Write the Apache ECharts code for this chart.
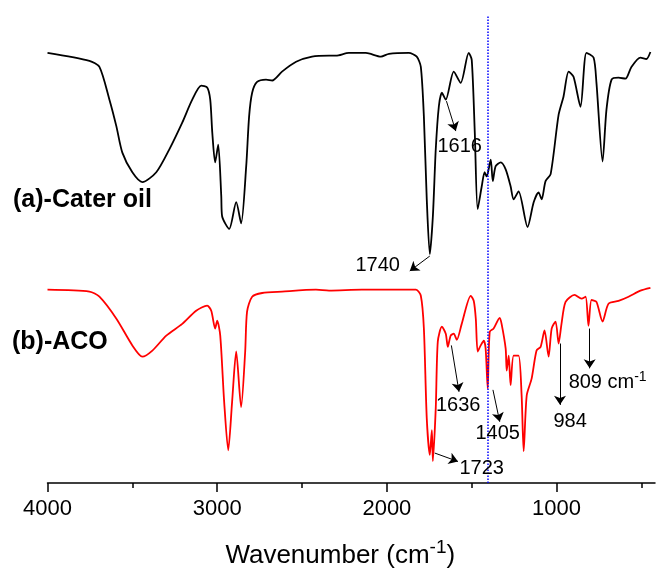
<!DOCTYPE html>
<html>
<head>
<meta charset="utf-8">
<script src="https://cdn.jsdelivr.net/npm/echarts@6/dist/echarts.min.js"></script>
<style>
  html, body { margin: 0; padding: 0; background: #fff; }
  #chart { width: 657px; height: 574px; }
</style>
</head>
<body>
<div id="chart"></div>
<script>
// (a) castor oil spectrum, wavenumber / transmittance (a.u.)
const castorWn = [4000, 3753, 3694, 3635, 3594, 3559, 3500, 3441, 3359, 3282, 3206, 3147, 3094, 3059, 3041, 3029, 3012, 2994, 2976, 2971, 2929, 2888, 2859, 2829, 2812, 2794, 2765, 2712, 2676, 2618, 2535, 2441, 2341, 2300, 2224, 2124, 2035, 1988, 1871, 1824, 1800, 1782, 1765, 1747, 1729, 1712, 1694, 1676, 1653, 1606, 1565, 1518, 1500, 1482, 1465, 1441, 1424, 1412, 1388, 1376, 1359, 1329, 1300, 1271, 1253, 1224, 1171, 1135, 1106, 1088, 1065, 1035, 988, 959, 929, 900, 859, 824, 782, 765, 729, 706, 676, 635, 594, 559, 506, 471, 447]
const castorT = [91.9, 90.2, 88.9, 81.9, 76.2, 70.6, 66.4, 64.3, 66.4, 71.3, 77.0, 81.9, 84.9, 84.5, 81.9, 74.9, 68.5, 72.3, 61.3, 57.0, 54.3, 60.0, 55.5, 67.7, 78.3, 83.4, 85.7, 86.2, 86.0, 87.9, 90.0, 91.1, 91.3, 91.3, 91.9, 91.9, 91.1, 91.7, 91.9, 91.1, 88.9, 78.3, 60.6, 48.9, 57.0, 71.3, 80.4, 83.4, 81.9, 87.9, 85.5, 91.9, 90.4, 74.9, 58.5, 63.4, 66.4, 65.5, 69.1, 64.5, 67.7, 68.5, 67.0, 63.4, 60.6, 62.3, 54.7, 60.0, 62.1, 60.6, 64.5, 66.0, 78.7, 82.6, 87.9, 86.8, 80.4, 91.9, 90.9, 85.5, 68.7, 79.8, 86.2, 86.6, 86.4, 88.9, 90.9, 90.6, 92.1]

// (b) ACO spectrum
const acoWn = [4000, 3753, 3694, 3594, 3500, 3441, 3382, 3300, 3206, 3124, 3059, 3035, 3012, 3000, 2982, 2959, 2935, 2912, 2888, 2859, 2835, 2824, 2794, 2735, 2618, 2418, 2341, 2147, 1829, 1800, 1782, 1765, 1747, 1735, 1729, 1712, 1700, 1676, 1653, 1641, 1624, 1606, 1588, 1559, 1506, 1488, 1476, 1465, 1447, 1429, 1418, 1406, 1394, 1371, 1335, 1324, 1300, 1294, 1282, 1271, 1253, 1224, 1206, 1194, 1176, 1147, 1118, 1094, 1071, 1047, 1029, 1006, 988, 971, 947, 894, 853, 829, 812, 794, 765, 729, 694, 635, 576, 506, 447]
const acoT = [41.3, 40.9, 39.8, 35.1, 29.4, 27.0, 28.3, 31.5, 34.0, 36.8, 37.9, 36.8, 33.0, 34.7, 31.5, 17.4, 7.0, 17.4, 28.1, 16.2, 28.1, 36.6, 39.8, 40.6, 40.9, 41.3, 41.1, 41.3, 41.3, 40.0, 33.0, 13.8, 6.0, 11.3, 4.7, 16.0, 30.2, 33.4, 31.9, 29.1, 31.5, 31.9, 30.6, 34.0, 40.0, 38.9, 35.1, 28.1, 29.4, 30.4, 28.7, 20.2, 32.3, 33.0, 35.3, 34.0, 28.7, 24.0, 27.2, 20.9, 27.2, 27.2, 18.7, 6.8, 18.7, 22.3, 28.3, 29.1, 32.6, 27.0, 33.0, 34.5, 29.8, 34.0, 38.7, 40.2, 39.4, 39.8, 33.6, 39.1, 38.7, 34.5, 38.3, 38.9, 39.8, 41.1, 41.7]

const majorTicks = [4000, 3000, 2000, 1000]
const minorTicks = [3500, 2500, 1500, 500]
const markerWn = 1405

// peak notes: label, arrow start, arrow end, label position (wavenumber, a.u.)
const noteText = ['1740', '1616', '1636', '1405', '1723', '984', '809 cm-1']
const noteFrom = [[1747, 48.5], [1649, 81.6], [1620, 29.4], [1375, 19.9], [1718, 6.4], [980, 29.8], [805, 33.0]]
const noteTo = [[1865, 45.3], [1594, 75.2], [1575, 19.5], [1335, 13.1], [1581, 4.6], [980, 16.7], [805, 24.5]]
const noteAt = [[2054, 46.4], [1571, 71.9], [1580, 16.6], [1347, 10.6], [1441, 3.2], [920, 13.2], [929, 21.4]]

const FONT = '"Liberation Sans", Arial, sans-serif'

const chart = echarts.init(document.getElementById('chart'))

function zip(xs, ys) {
  return xs.map((x, i) => [x, ys[i]])
}

const noteLabels = noteText.map((t, i) => {
  const sup = t.endsWith(' cm-1')
  return {
    value: noteAt[i],
    label: sup ? {
      align: 'left',
      color: '#000',
      formatter: '{n|' + t.replace('-1', '') + '}{s|-1}'
    } : { color: '#000', formatter: t }
  }
})

const xBase = {
  type: 'value',
  inverse: true,
  min: 420,
  max: 4000,
  position: 'bottom',
  splitLine: { show: false }
}

chart.setOption({
  animation: false,
  backgroundColor: '#fff',
  grid: { left: 47.5, right: 2, top: 15, bottom: 89 },
  xAxis: [
    Object.assign({}, xBase, {
      name: '{a|Wavenumber (cm}{s|-1}{a|)}',
      nameLocation: 'middle',
      nameGap: 55,
      nameTextStyle: {
        padding: [0, 22, 0, 0],
        rich: {
          a: { fontFamily: FONT, fontSize: 26, lineHeight: 36, color: '#000' },
          s: { fontFamily: FONT, fontSize: 19, lineHeight: 25, verticalAlign: 'top', color: '#000' }
        }
      },
      axisLine: { lineStyle: { color: '#000', width: 1.5 } },
      axisTick: { customValues: majorTicks, length: 9, lineStyle: { color: '#000', width: 1.5 } },
      axisLabel: {
        customValues: majorTicks,
        margin: 15,
        fontFamily: FONT,
        fontSize: 22,
        color: '#000',
        formatter: v => String(v)
      }
    }),
    Object.assign({}, xBase, {
      axisLine: { show: false },
      axisTick: { customValues: minorTicks, length: 5, lineStyle: { color: '#000', width: 1.5 } },
      axisLabel: { show: false }
    })
  ],
  yAxis: { type: 'value', min: 0, max: 100, show: false },
  graphic: [
    { type: 'text', x: 13, y: 200, style: { text: '(a)-Cater oil', font: 'bold 25px ' + FONT, fill: '#000', verticalAlign: 'middle' } },
    { type: 'text', x: 12, y: 342, style: { text: '(b)-ACO', font: 'bold 25px ' + FONT, fill: '#000', verticalAlign: 'middle' } }
  ],
  series: [
    {
      name: '(a)-Cater oil',
      type: 'line',
      data: zip(castorWn, castorT),
      showSymbol: false,
      smooth: 0.25,
      lineStyle: { color: '#000', width: 1.8 },
      markLine: {
        silent: true,
        symbol: 'none',
        label: { show: false },
        lineStyle: { color: '#0000ff', type: 'dotted', width: 1.5 },
        data: [{ xAxis: markerWn }]
      }
    },
    {
      name: '(b)-ACO',
      type: 'line',
      data: zip(acoWn, acoT),
      showSymbol: false,
      smooth: 0.25,
      lineStyle: { color: '#ff0000', width: 1.8 }
    },
    {
      type: 'lines',
      coordinateSystem: 'cartesian2d',
      symbol: ['none', 'arrow'],
      symbolSize: 9,
      lineStyle: { color: '#000', width: 1, opacity: 1 },
      data: noteFrom.map((p, i) => ({ coords: [p, noteTo[i]] })),
      z: 5
    },
    {
      type: 'scatter',
      symbolSize: 0,
      itemStyle: { opacity: 1 },
      data: noteLabels,
      label: {
        show: true,
        position: 'inside',
        fontFamily: FONT,
        fontSize: 20,
        color: '#000',
        rich: {
          n: { fontFamily: FONT, fontSize: 20, lineHeight: 26, color: '#000' },
          s: { fontFamily: FONT, fontSize: 14, lineHeight: 16, verticalAlign: 'top', color: '#000' }
        }
      },
      z: 6
    }
  ]
})
</script>
</body>
</html>
